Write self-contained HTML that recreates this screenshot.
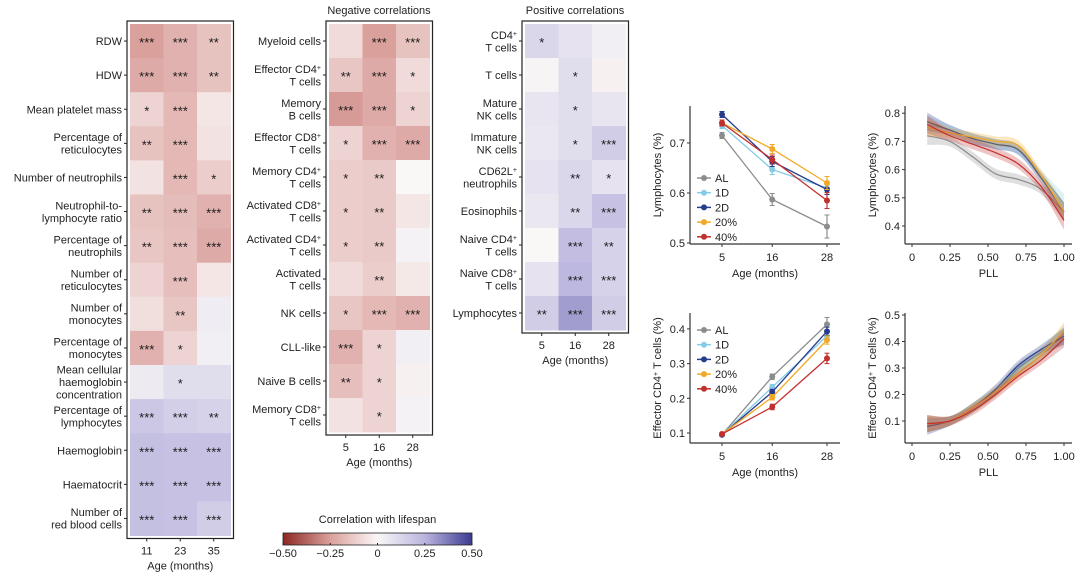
<!DOCTYPE html>
<html><head><meta charset="utf-8"><style>
html,body{margin:0;padding:0;background:#fff}
svg{display:block;font-family:"Liberation Sans",Arial,sans-serif}
</style></head><body>
<svg id="fig" width="1080" height="580" viewBox="0 0 1080 580" xmlns="http://www.w3.org/2000/svg"></svg>
<script>
// ---------- DATA ----------
const bloodLabels=["RDW","HDW","Mean platelet mass","Percentage of\nreticulocytes","Number of neutrophils","Neutrophil-to-\nlymphocyte ratio","Percentage of\nneutrophils","Number of\nreticulocytes","Number of\nmonocytes","Percentage of\nmonocytes","Mean cellular\nhaemoglobin\nconcentration","Percentage of\nlymphocytes","Haemoglobin","Haematocrit","Number of\nred blood cells"];
const bloodAges=["11","23","35"];
const bloodValues=[[-0.25,-0.2,-0.15],[-0.22,-0.2,-0.15],[-0.1,-0.18,-0.05],[-0.15,-0.18,-0.06],[-0.06,-0.18,-0.12],[-0.15,-0.17,-0.2],[-0.14,-0.16,-0.22],[-0.1,-0.16,-0.05],[-0.07,-0.14,0.04],[-0.2,-0.1,0.03],[0.05,0.1,0.1],[0.18,0.15,0.14],[0.21,0.2,0.2],[0.21,0.2,0.2],[0.21,0.2,0.16]];
const bloodStars=[["***","***","**"],["***","***","**"],["*","***",""],["**","***",""],["","***","*"],["**","***","***"],["**","***","***"],["","***",""],["","**",""],["***","*",""],["","*",""],["***","***","**"],["***","***","***"],["***","***","***"],["***","***","***"]];
const negLabels=["Myeloid cells","Effector CD4+\nT cells","Memory\nB cells","Effector CD8+\nT cells","Memory CD4+\nT cells","Activated CD8+\nT cells","Activated CD4+\nT cells","Activated\nT cells","NK cells","CLL-like","Naive B cells","Memory CD8+\nT cells"];
const cellAges=["5","16","28"];
const negValues=[[-0.08,-0.25,-0.15],[-0.14,-0.22,-0.08],[-0.26,-0.22,-0.1],[-0.1,-0.2,-0.22],[-0.12,-0.13,0],[-0.12,-0.13,-0.05],[-0.12,-0.13,0.02],[-0.08,-0.12,-0.04],[-0.14,-0.18,-0.2],[-0.2,-0.1,0.03],[-0.16,-0.1,-0.02],[-0.06,-0.1,0.02]];
const negStars=[["","***","***"],["**","***","*"],["***","***","*"],["*","***","***"],["*","**",""],["*","**",""],["*","**",""],["","**",""],["*","***","***"],["***","*",""],["**","*",""],["","*",""]];
const posLabels=["CD4+\nT cells","T cells","Mature\nNK cells","Immature\nNK cells","CD62L+\nneutrophils","Eosinophils","Naive CD4+\nT cells","Naive CD8+\nT cells","Lymphocytes"];
const posValues=[[0.12,0.08,0.03],[0.01,0.1,-0.02],[0.07,0.1,0.07],[0.06,0.1,0.16],[0.08,0.12,0.08],[0.06,0.12,0.2],[0,0.22,0.14],[0.08,0.24,0.14],[0.16,0.3,0.16]];
const posStars=[["*","",""],["","*",""],["","*",""],["","*","***"],["","**","*"],["","**","***"],["","***","**"],["","***","***"],["**","***","***"]];
const groups=["AL","1D","2D","20%","40%"];
const ageX=[5,16,28];
const lymMean=[[0.715,0.587,0.533],[0.735,0.647,0.61],[0.757,0.663,0.607],[0.74,0.688,0.62],[0.74,0.667,0.585]];
const lymErr=[[0.006,0.012,0.023],[0.006,0.01,0.012],[0.006,0.01,0.01],[0.006,0.009,0.013],[0.006,0.009,0.016]];
const effMean=[[0.095,0.262,0.413],[0.095,0.232,0.38],[0.095,0.218,0.393],[0.097,0.203,0.368],[0.097,0.175,0.315]];
const effErr=[[0.004,0.008,0.02],[0.004,0.008,0.012],[0.004,0.008,0.012],[0.004,0.008,0.012],[0.004,0.008,0.015]];
const pllX=[0.1,0.25,0.4,0.55,0.7,0.85,1.0];
const pllLym=[[0.72,0.70,0.645,0.585,0.565,0.53,0.45],[0.76,0.74,0.71,0.69,0.67,0.58,0.48],[0.77,0.74,0.71,0.69,0.67,0.57,0.45],[0.75,0.73,0.715,0.70,0.685,0.58,0.45],[0.76,0.72,0.69,0.66,0.62,0.54,0.42]];
const pllEff=[[0.09,0.10,0.15,0.21,0.30,0.36,0.42],[0.09,0.10,0.15,0.21,0.29,0.35,0.43],[0.08,0.10,0.15,0.22,0.31,0.37,0.42],[0.09,0.10,0.15,0.21,0.28,0.35,0.44],[0.09,0.10,0.14,0.20,0.27,0.33,0.41]];
const colorTicks=["−0.50","−0.25","0","0.25","0.50"];
const colorTickVals=[-0.5,-0.25,0,0.25,0.5];
const lymTicks=[0.5,0.6,0.7];
const effTicks=[0.1,0.2,0.3,0.4];
const pllLymTicks=[0.4,0.5,0.6,0.7,0.8];
const pllEffTicks=[0.1,0.2,0.3,0.4,0.5];
const pllTicks=[0,0.25,0.5,0.75,1];
const pllTickLabels=["0","0.25","0.50","0.75","1.00"];
const groupColors=["#8c8c8c","#86cbe6","#283c8c","#f2a824","#c2302e"];

// ---------- HELPERS ----------
const S=document.getElementById('fig');const NS="http://www.w3.org/2000/svg";
function mk(tag,attrs,parent){const e=document.createElementNS(NS,tag);for(const k in attrs)e.setAttribute(k,attrs[k]);(parent||S).appendChild(e);return e;}
function txt(x,y,s,size,anchor,name,fill){const t=mk('text',{x:x,y:y,'font-size':size,'text-anchor':anchor||'middle',fill:fill||'#222'});


addRich(t,s);return t;}
function addRich(t,s){const parts=s.split('+');parts.forEach((p,i)=>{if(p)t.appendChild(document.createTextNode(p));if(i<parts.length-1){const sp=document.createElementNS(NS,'tspan');sp.setAttribute('baseline-shift','super');sp.setAttribute('font-size','7');sp.textContent='+';t.appendChild(sp);}});}
function lerp(a,b,t){return a.map((v,i)=>Math.round(v+(b[i]-v)*t));}
function corrColor(v){const W=[250,247,247],R1=[218,160,156],R2=[140,40,36],B1=[186,181,222],B2=[60,60,144];let c;
if(v<0){const t=Math.min(-v,0.5);c=t<0.25?lerp(W,R1,t/0.25):lerp(R1,R2,(t-0.25)/0.25);}else{const t=Math.min(v,0.5);c=t<0.25?lerp(W,B1,t/0.25):lerp(B1,B2,(t-0.25)/0.25);}return `rgb(${c})`;}

function heatmap(x0,y0,cw,rh,labels,vals,stars,ages,prefix,title,titleX){
 const g=mk('g',{});
 
 
 const n=labels.length;const w=cw*3+6,h=rh*n+6;
 vals.forEach((row,r)=>row.forEach((v,c)=>{const rc=mk('rect',{x:x0+3+c*cw,y:y0+3+r*rh,width:cw+0.5,height:rh+0.5,fill:corrColor(v)},g);
  
  
  const s=stars[r][c];if(s){const t=txt(x0+3+c*cw+cw/2,y0+3+r*rh+rh/2+6,s,13,'middle',prefix+'-significance','#1a1a1a');g.appendChild(t);}}));
 const b=mk('rect',{x:x0,y:y0,width:w,height:h,fill:'none',stroke:'#222','stroke-width':1.2},g);
 
 
 labels.forEach((l,r)=>{const cy=y0+3+r*rh+rh/2;mk('line',{x1:x0-3,x2:x0,y1:cy,y2:cy,stroke:'#222'},g);
  const lines=l.split('\n');const lh=12.5;const start=cy-(lines.length-1)*lh/2+4;
  lines.forEach((ln,i)=>{const t=txt(x0-5,start+i*lh,ln,11,'end',prefix+'-row-label');g.appendChild(t);});});
 ages.forEach((a,c)=>{const cx=x0+3+c*cw+cw/2;mk('line',{x1:cx,x2:cx,y1:y0+h,y2:y0+h+3,stroke:'#222'},g);const t=txt(cx,y0+h+16,a,11,'middle',prefix+'-x-tick');g.appendChild(t);});
 const at=txt(x0+w/2,y0+h+31,'Age (months)',11,'middle',prefix+'-x-axis-title');g.appendChild(at);
 if(title){const tt=txt(titleX,14,title,11,'middle',prefix+'-title');g.appendChild(tt);}
}
heatmap(127,21,33.5,34.1,bloodLabels,bloodValues,bloodStars,bloodAges,'blood',null);
heatmap(326,21,33.5,34,negLabels,negValues,negStars,cellAges,'negative','Negative correlations',379);
heatmap(522,21,33.5,34,posLabels,posValues,posStars,cellAges,'positive','Positive correlations',575);

// colorbar
(function(){const g=mk('g',{});
 
 
 const x0=283,x1=472,y0=533,h=12;const defs=mk('defs',{},g);const lg=mk('linearGradient',{id:'cg',x1:0,x2:1,y1:0,y2:0},defs);
 for(let i=0;i<=20;i++){const v=-0.5+i*0.05;mk('stop',{offset:(i/20),'stop-color':corrColor(v)},lg);}
 const r=mk('rect',{x:x0,y:y0,width:x1-x0,height:h,fill:'url(#cg)',stroke:'#222','stroke-width':0.8},g);
 
 
 colorTickVals.forEach((v,i)=>{const x=x0+(v+0.5)/1*(x1-x0);mk('line',{x1:x,x2:x,y1:y0+h-2,y2:y0+h,stroke:'#222'},g);g.appendChild(txt(x,y0+h+12,colorTicks[i],11,'middle','colorbar-tick'));});
 g.appendChild(txt((x0+x1)/2,y0-10,'Correlation with lifespan',11,'middle','colorbar-title'));})();

// line charts
function axes(prefix,ax,ay,top,right,yTicks,yfn,yfmt,xTicks,xfn,xLabels,xTitle,yTitle){
 const g=mk('g',{});
 
 
 mk('line',{x1:ax,x2:ax,y1:top,y2:ay,stroke:'#333','stroke-width':1.2},g);
 mk('line',{x1:ax,x2:right,y1:ay,y2:ay,stroke:'#333','stroke-width':1.2},g);
 yTicks.forEach(v=>{const y=yfn(v);mk('line',{x1:ax-3,x2:ax,y1:y,y2:y,stroke:'#333'},g);g.appendChild(txt(ax-5,y+4,yfmt(v),11,'end',prefix+'-y-tick'));});
 xTicks.forEach((v,i)=>{const x=xfn(v);mk('line',{x1:x,x2:x,y1:ay,y2:ay+3,stroke:'#333'},g);g.appendChild(txt(x,ay+17,xLabels[i],11,'middle',prefix+'-x-tick'));});
 g.appendChild(txt((ax+right)/2,ay+33,xTitle,11,'middle',prefix+'-x-axis-title'));
 const yt=txt(0,0,yTitle,11,'middle',prefix+'-y-axis-title');yt.setAttribute('transform',`translate(${ax-29},${(top+ay)/2}) rotate(-90)`);g.appendChild(yt);
}
function ageChart(prefix,ay,top,yTicks,y0v,y0px,pxPer,means,errs,legY,yTitle){
 const xfn=v=>722+(v-5)*(105/23);const yfn=v=>y0px-(v-y0v)*pxPer;
 axes(prefix,690,ay,top,840,yTicks,yfn,v=>v.toFixed(1),ageX,xfn,ageX.map(String),'Age (months)',yTitle);
 means.forEach((m,s)=>{const col=groupColors[s];const g=mk('g',{});
  
  
  mk('polyline',{points:m.map((v,i)=>xfn(ageX[i])+','+yfn(v)).join(' '),fill:'none',stroke:col,'stroke-width':1.3},g);
  m.forEach((v,i)=>{const x=xfn(ageX[i]);mk('line',{x1:x,x2:x,y1:yfn(v+errs[s][i]),y2:yfn(v-errs[s][i]),stroke:col,'stroke-width':1.2},g);
   mk('line',{x1:x-2.5,x2:x+2.5,y1:yfn(v+errs[s][i]),y2:yfn(v+errs[s][i]),stroke:col},g);mk('line',{x1:x-2.5,x2:x+2.5,y1:yfn(v-errs[s][i]),y2:yfn(v-errs[s][i]),stroke:col},g);
   const p=mk('circle',{cx:x,cy:yfn(v),r:3,fill:col},g);
   
   });
  const ly=legY+s*14.7;const lg=mk('g',{});
  
  
  mk('line',{x1:697,x2:711,y1:ly,y2:ly,stroke:col,'stroke-width':1.5},lg);mk('circle',{cx:704,cy:ly,r:3,fill:col},lg);
  lg.appendChild(txt(715,ly+4,groups[s],11,'start','legend-label'));});
}
ageChart('lym-age',244,106,lymTicks,0.5,243,500,lymMean,lymErr,178,'Lymphocytes (%)');
ageChart('eff-age',443,313,effTicks,0.1,433,347,effMean,effErr,330,'Effector CD4+ T cells (%)');

function pllChart(prefix,ay,top,yTicks,y0v,y0px,pxPer,series,band,yTitle){
 const xfn=v=>912+v*152;const yfn=v=>y0px-(v-y0v)*pxPer;
 axes(prefix,905,ay,top,1072,yTicks,yfn,v=>v.toFixed(1),pllTicks,xfn,pllTickLabels,'PLL',yTitle);
 const smooth=pts=>{let d='M'+pts[0][0]+','+pts[0][1];for(let i=0;i<pts.length-1;i++){const p0=pts[i-1]||pts[i],p1=pts[i],p2=pts[i+1],p3=pts[i+2]||p2;
  d+=` C${p1[0]+(p2[0]-p0[0])/6},${p1[1]+(p2[1]-p0[1])/6} ${p2[0]-(p3[0]-p1[0])/6},${p2[1]-(p3[1]-p1[1])/6} ${p2[0]},${p2[1]}`;}return d;};
 series.forEach((ys,s)=>{const col=groupColors[s];const g=mk('g',{});
  
  
  const up=ys.map((v,i)=>[xfn(pllX[i]),yfn(v+band*(i==0||i==ys.length-1?1.8:1))]);const lo=ys.map((v,i)=>[xfn(pllX[i]),yfn(v-band*(i==0||i==ys.length-1?1.8:1))]).reverse();
  const bd=mk('path',{d:smooth(up)+' L'+lo[0][0]+','+lo[0][1]+smooth(lo).slice(smooth(lo).indexOf(' C'))+'Z',fill:col,'fill-opacity':0.28,stroke:'none'},g);
  
  
  const ln=mk('path',{d:smooth(ys.map((v,i)=>[xfn(pllX[i]),yfn(v)])),fill:'none',stroke:col,'stroke-width':1.2},g);
  
  });
}
pllChart('lym-pll',244,106,pllLymTicks,0.4,226,282,pllLym,0.018,'Lymphocytes (%)');
pllChart('eff-pll',443,313,pllEffTicks,0.1,421,265,pllEff,0.018,'Effector CD4+ T cells (%)');
</script>
</body></html>
